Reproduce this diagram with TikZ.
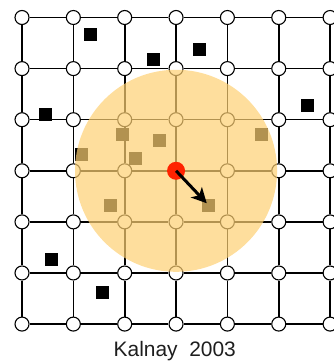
\documentclass[tikz,border=0pt]{standalone}
\usepackage{fontspec}
\newfontfamily\labelfont{Liberation Sans}
\usetikzlibrary{arrows.meta}
\definecolor{diskorange}{HTML}{FED073}
\definecolor{dotred}{HTML}{FF2200}
\definecolor{labelgray}{HTML}{1E1E1E}

\begin{document}
\begin{tikzpicture}[x=51.33bp,y=51.08bp,
    gridpt/.style={circle,draw,fill=white,line width=1.1bp,minimum size=14bp,inner sep=0pt},
    obs/.style={fill=black,minimum size=13bp,inner sep=0pt}]
        \useasboundingbox (-0.4286,-0.7616) rectangle (6.0625,6.3426);
        \foreach \i in {0,...,6}{\foreach \j in {0,...,6}{\node[gridpt] (g-\i-\j) at (\i,\j) {};}}
        \foreach \i in {0,...,6}{\foreach \j [count=\k] in {0,...,5}{
            \draw[line width=1.6bp] (g-\i-\j) -- (g-\i-\k);
            \draw[line width=1.6bp] (g-\j-\i) -- (g-\k-\i);}}
        % observations
        \foreach \x/\y [count=\n] in {1.338/5.660,2.558/5.184,3.462/5.366,5.558/4.283,0.462/4.094,0.579/1.255,1.564/0.623,
            1.954/3.716,2.675/3.585,2.201/3.246,1.163/3.324,4.670/3.716,1.720/2.312,3.637/2.312}{
            \node[obs] (o\n) at (\x,\y) {};}
        \fill[diskorange,opacity=0.7] (g-3-3) circle (101bp);
        \node[circle,fill=dotred,minimum size=18bp,inner sep=0pt] (dot) at (g-3-3) {};
        \coordinate (tip) at (3.598,2.365);
        \draw[-{Stealth[length=15bp,width=15bp,inset=4bp]},line width=3bp] (dot.center) -- (tip);
        \node[anchor=base,text=labelgray,font=\labelfont\fontsize{21}{25}\selectfont] (cap) at (2.976,-0.625) {Kalnay\ \ 2003};
      \end{tikzpicture}
\end{document}
